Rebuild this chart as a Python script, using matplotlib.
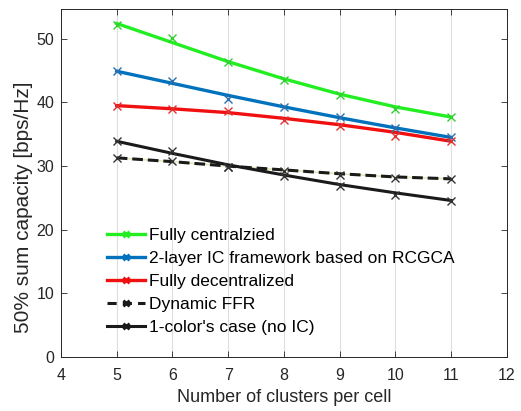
import matplotlib
matplotlib.use("Agg")
import matplotlib.pyplot as plt
from matplotlib.lines import Line2D

plt.rcParams['font.family'] = ['Liberation Sans', 'DejaVu Sans']

# clusters per cell
clusters = [5, 6, 7, 8, 9, 10, 11]

# fitted curves (lines)
central_fit = [52.4, 49.4, 46.4, 43.7, 41.3, 39.3, 37.7]
rcgca_fit = [44.9, 43.0, 41.1, 39.3, 37.6, 36.0, 34.5]
decentral_fit = [39.5, 39.0, 38.4, 37.5, 36.5, 35.3, 33.9]
ffr_fit = [31.3, 30.7, 30.0, 29.4, 28.8, 28.3, 28.0]
onecolor_fit = [33.9, 32.0, 30.2, 28.6, 27.1, 25.8, 24.6]

# simulated points (markers)
central_pts = [52.1, 50.1, 46.3, 43.6, 41.2, 38.9, 37.7]
rcgca_pts = [44.9, 43.4, 40.6, 39.3, 37.7, 36.0, 34.5]
decentral_pts = [39.5, 39.0, 38.7, 37.3, 36.3, 34.8, 33.9]
ffr_pts = [31.3, 30.8, 29.8, 29.2, 28.6, 28.2, 28.0]
onecolor_pts = [33.9, 32.4, 29.9, 28.5, 26.9, 25.4, 24.5]

labels = ["Fully centralzied", "2-layer IC framework based on RCGCA",
          "Fully decentralized", "Dynamic FFR", "1-color's case (no IC)"]

fig = plt.figure(figsize=(5.21, 4.11), dpi=100)
ax = fig.add_axes([0.117, 0.131, 0.856, 0.846])

green = '#22ee22'
blue = '#0072bd'
red = '#f01010'
black = '#1a1a1a'

ax.plot(clusters, central_fit, color=green, lw=2.4, zorder=3)
ax.plot(clusters, rcgca_fit, color=blue, lw=2.4, zorder=3)
ax.plot(clusters, decentral_fit, color=red, lw=2.4, zorder=3)
ax.plot(clusters, ffr_fit, color='#e2e8bc', lw=1.2, zorder=3)
ax.plot(clusters, ffr_fit, color=black, lw=2.2, ls=(0, (3.5, 1.6)), zorder=3)
ax.plot(clusters, onecolor_fit, color=black, lw=2.2, zorder=3)

mk = dict(marker='x', ls='none', ms=6, mew=1.0, zorder=4)
ax.plot(clusters, central_pts, color='#30d030', **mk)
ax.plot(clusters, rcgca_pts, color='#2a6fb0', **mk)
ax.plot(clusters, decentral_pts, color='#e03030', **mk)
ax.plot(clusters, ffr_pts, color='#333333', **mk)
ax.plot(clusters, onecolor_pts, color='#333333', **mk)

ax.set_xlim(4, 12)
ax.set_ylim(0, 54.6)
ax.set_xticks(range(4, 13))
ax.set_yticks([0, 10, 20, 30, 40, 50])
ax.grid(axis='x', color='#dddddd', lw=0.8)
ax.set_axisbelow(True)
ax.tick_params(direction='in', top=True, right=True, length=4, width=0.6,
               labelsize=11.5, colors='#262626')
ax.tick_params(axis='x', pad=8)
ax.tick_params(axis='y', pad=5)
for s in ax.spines.values():
    s.set_color('#262626')
    s.set_linewidth(0.7)

ax.set_xlabel("Number of clusters per cell", fontsize=13, color='#262626')
ax.set_ylabel("50% sum capacity [bps/Hz]", fontsize=15, color='#262626')
ax.yaxis.set_label_coords(-0.062, 0.431)

handles = [
    Line2D([], [], color=green, lw=2.4, marker='x', ms=5, mew=2),
    Line2D([], [], color=blue, lw=2.4, marker='x', ms=5, mew=2),
    Line2D([], [], color=red, lw=2.4, marker='x', ms=5, mew=2),
    Line2D([], [], color=black, lw=2.2, ls=(0, (3, 2)), marker='x', ms=5, mew=2),
    Line2D([], [], color=black, lw=2.2, marker='x', ms=5, mew=2),
]
ax.legend(handles, labels, loc='upper left', bbox_to_anchor=(0.103, 0.372),
          frameon=False, fontsize=12.5, borderpad=0, borderaxespad=0,
          labelspacing=0.45, handlelength=2.2, handletextpad=0.2)

fig.savefig("out.png", dpi=100)
